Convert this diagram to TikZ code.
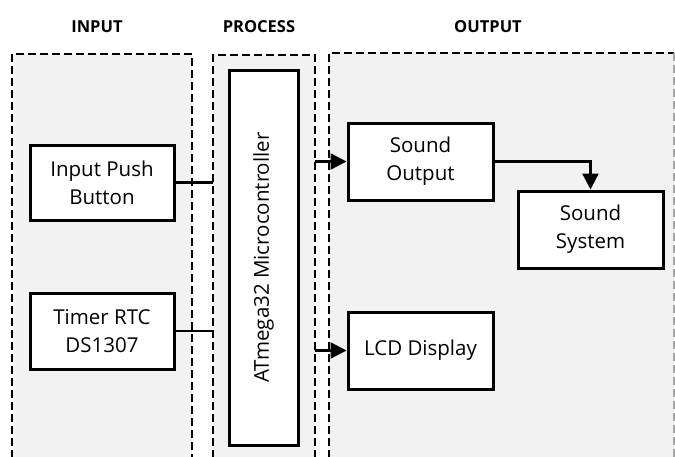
\documentclass[tikz,border=0pt]{standalone}
\usepackage{fontspec}
\setmainfont{Open Sans}
\usetikzlibrary{arrows.meta}
\definecolor{grp}{HTML}{F2F2F2}
\definecolor{grpedge}{HTML}{A6A6A6}
\begin{document}
\begin{tikzpicture}[x=1pt,y=-1pt,
  grpbox/.style={line width=2.7pt, dash pattern=on 8pt off 4pt},
  blk/.style={draw=black, fill=white, line width=3pt, align=center,
    font=\fontsize{20.5}{28}\selectfont, inner sep=0pt},
  ttl/.style={font=\bfseries\fontsize{16.5}{19}\selectfont},
  conn/.style={line width=2.3pt},
  arr/.style={line width=2.3pt, -{Triangle[length=16pt,width=16pt]}}]
\useasboundingbox (0,0) rectangle (675,456);
\clip (0,0) rectangle (675,456);
% groups
\fill[grp] (12,54) rectangle (192,470);
\draw[grpbox] (12,470) -- (12,54) -- (192,54) -- (192,470);
\fill[grp] (213,55) rectangle (315,470);
\draw[grpbox] (213,470) -- (213,55) -- (315,55) -- (315,470);
\fill[grp] (329,53) rectangle (674,470);
\draw[grpbox] (329,470) -- (329,53) -- (674,53);
\draw[grpbox, draw=grpedge] (674,53) -- (674,470);
% titles
\node[ttl] (tin) at (97,27) {INPUT};
\node[ttl] (tpr) at (259,27) {PROCESS};
\node[ttl] (tout) at (488,27) {OUTPUT};
% blocks
\node[blk, minimum width=144pt, minimum height=75pt] (ipb) at (102,182.5) {Input Push\\Button};
\node[blk, minimum width=144pt, minimum height=76pt] (rtc) at (102,331) {Timer RTC\\DS1307};
\node[blk, minimum width=69pt, minimum height=375pt] (mcu) at (263.5,257.5) {};
\node[rotate=90, font=\fontsize{20.5}{28}\selectfont] (mcut) at (mcu.center) {ATmega32 Microcontroller};
\node[blk, minimum width=145pt, minimum height=77pt] (so) at (420.5,161.5) {Sound\\Output};
\node[blk, minimum width=145pt, minimum height=77pt] (ss) at (590.5,229.5) {Sound\\System};
\node[blk, minimum width=145pt, minimum height=77pt] (lcd) at (420.5,350.5) {LCD Display};
% connector ends
\coordinate (pl) at (213,0);
\coordinate (pr) at (315,0);
\draw[conn] (ipb.east) -- (ipb.east -| pl);
\draw[conn] (rtc.east) -- (rtc.east -| pl);
\draw[arr] (so.west -| pr) -- (so.west);
\draw[arr] (lcd.west -| pr) -- (lcd.west);
\draw[arr] (so.east) -| (ss.north);
\end{tikzpicture}
\end{document}
